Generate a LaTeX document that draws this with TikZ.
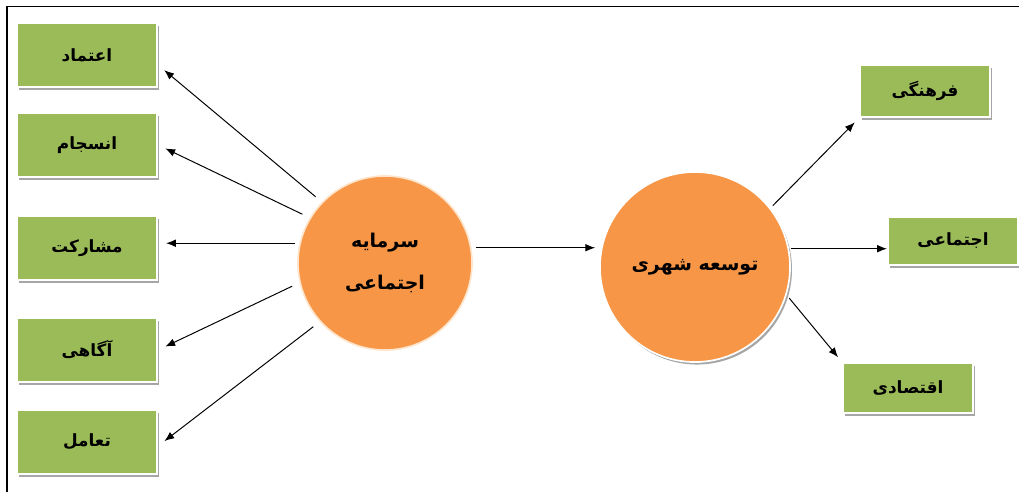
\documentclass[tikz,border=0pt]{standalone}
\usepackage{fontspec}
\newfontfamily\arabicfont[Script=Arabic]{DejaVu Sans}
\TeXXeTstate=1
\usetikzlibrary{shadows,arrows.meta}
\definecolor{boxgreen}{HTML}{9BBB59}
\definecolor{ballorange}{HTML}{F79646}
\newcommand{\fatext}[1]{{\arabicfont\bfseries\beginR #1\endR}}
\begin{document}
\begin{tikzpicture}[x=0.025cm,y=-0.025cm]
\tikzstyle{every node}+=[inner sep=0pt]
\tikzstyle{factor}=[rectangle, fill=boxgreen, draw=white, line width=1.5pt, minimum width=3.5cm, minimum height=1.6cm, drop shadow={shadow xshift=1.2pt, shadow yshift=-1.8pt, fill=black!35, opacity=1}, font=\fontsize{12}{14}\selectfont]
\tikzstyle{ball}=[circle, fill=ballorange, draw=orange!20, line width=1.2pt, align=center, font=\fontsize{13.5}{16}\selectfont]
\tikzstyle{link}=[-{Latex[length=7pt,width=5.5pt]}, line width=0.7pt]
\useasboundingbox (0,0) rectangle (1019,492);
\draw [line width=1.4pt] (7,492) -- (7,6.5) -- (1019,6.5);
% left side
\node [factor] (etemad) at (87,55) {\fatext{اعتماد}};
\node [factor] (ensejam) at (87,145) {\fatext{انسجام}};
\node [factor] (mosharekat) at (87,248) {\fatext{مشارکت}};
\node [factor] (agahi) at (87,350) {\fatext{آگاهی}};
\node [factor] (taamol) at (87,442) {\fatext{تعامل}};
\node [ball, minimum size=4.35cm] (sarmaye) at (385,263) {\fatext{سرمایه}\\[14pt]\fatext{اجتماعی}};
% right side
\node [ball, minimum size=4.75cm, draw=white, drop shadow={shadow xshift=1.4pt, shadow yshift=-1.8pt, fill=black!35, opacity=1}] (tose) at (695,267) {\fatext{توسعه شهری}};
\node [factor, minimum width=3.25cm, minimum height=1.3cm] (farhangi) at (925,91) {\fatext{فرهنگی}};
\node [factor, minimum width=3.25cm, minimum height=1.2cm] (ejtemai) at (953,241) {\fatext{اجتماعی}};
\node [factor, minimum width=3.25cm, minimum height=1.25cm] (eqtesadi) at (908,388) {\fatext{اقتصادی}};
% arrows
\draw [link, shorten <=0.2cm, shorten >=0.2cm] (sarmaye.136) -- ([yshift=-0.25cm]etemad.east);
\draw [link, shorten <=0.2cm, shorten >=0.2cm] (sarmaye.149) -- (ensejam.east);
\draw [link, shorten <=0.1cm, shorten >=0.2cm] (sarmaye.167) -- (sarmaye.167 -| mosharekat.east);
\draw [link, shorten <=0.2cm, shorten >=0.2cm] (sarmaye.193) -- (agahi.east);
\draw [link, shorten <=0.2cm, shorten >=0.2cm] (sarmaye.222) -- ([yshift=-0.1cm]taamol.east);
\draw [link, shorten <=0.1cm, shorten >=0.1cm] (sarmaye.10) -- (sarmaye.10 -| tose.west);
\draw [link, shorten <=0.08cm, shorten >=0.15cm] (tose.38) -- (farhangi.south west);
\draw [link, shorten <=0.05cm] (tose.11) -- (tose.11 -| ejtemai.west);
\draw [link, shorten <=0.1cm, shorten >=0.15cm] (tose.-17) -- (eqtesadi.north west);
\end{tikzpicture}
\end{document}
